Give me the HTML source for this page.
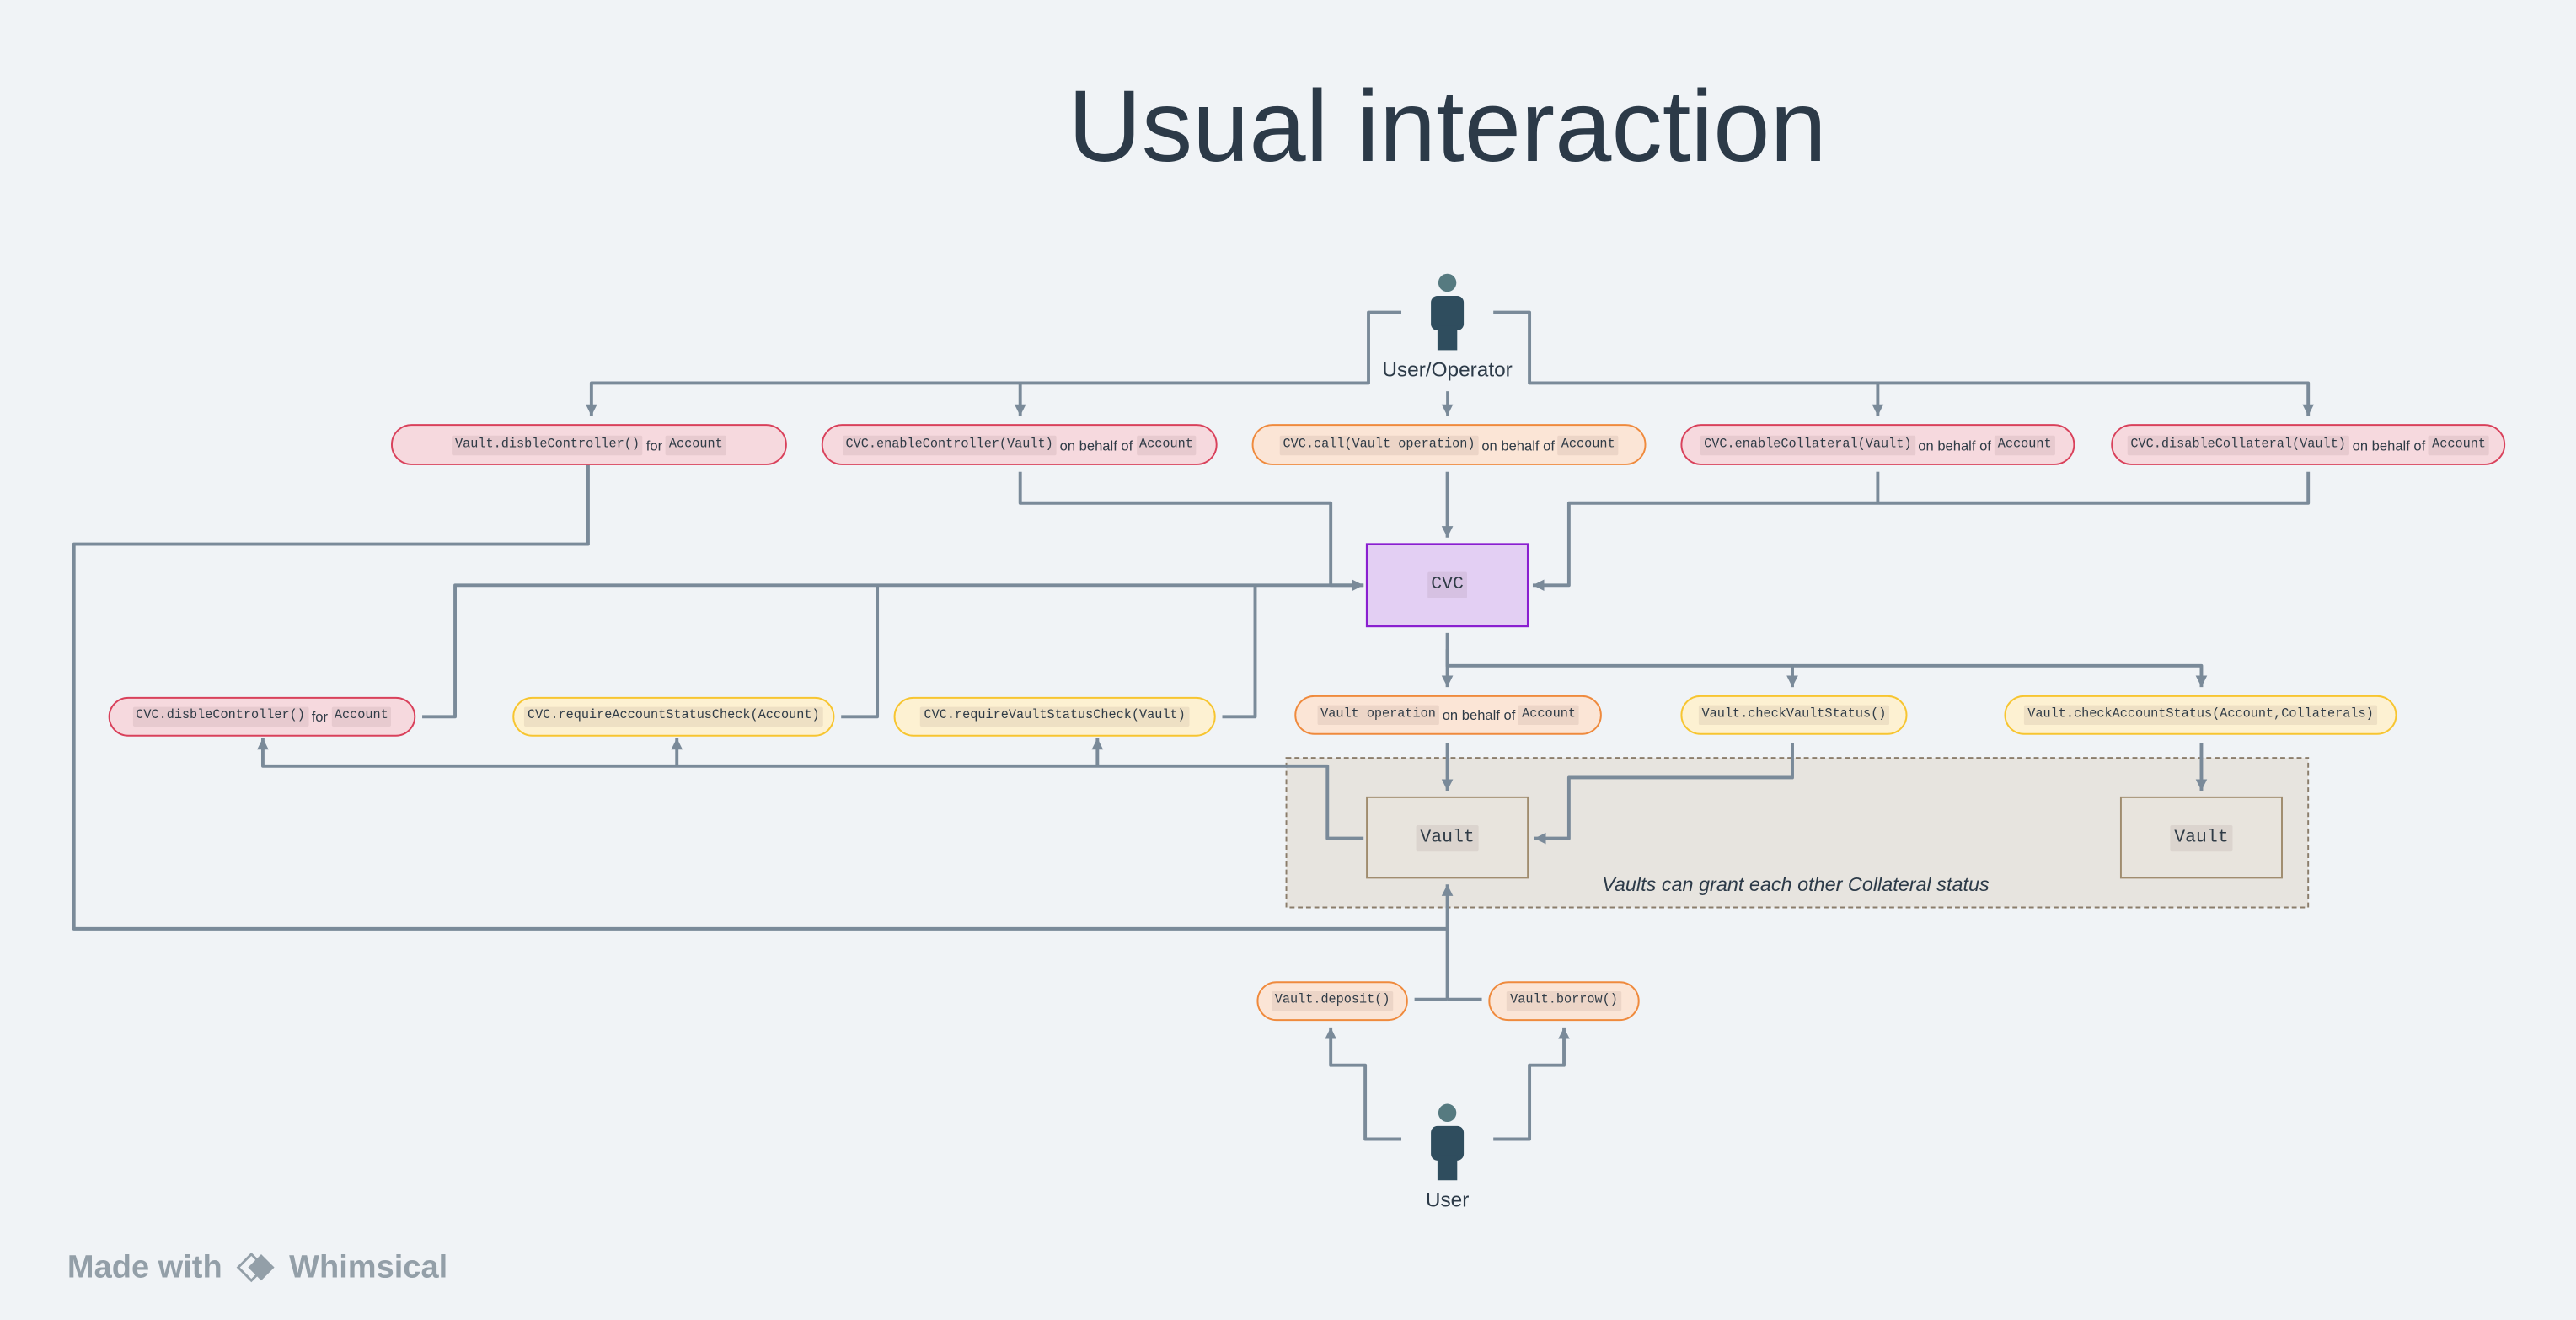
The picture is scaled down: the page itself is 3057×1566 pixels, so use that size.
<!DOCTYPE html>
<html><head><meta charset="utf-8"><style>
html,body{margin:0;padding:0;background:#f0f3f6;}
body{width:3057px;height:1566px;overflow:hidden;position:relative;}
#w{position:absolute;left:0;top:0;width:1568px;height:803px;transform:scale(1.9496,1.9502);transform-origin:0 0;}
svg{position:absolute;left:0;top:0;}
.n{position:absolute;box-sizing:border-box;display:flex;align-items:center;justify-content:center;font-family:"Liberation Sans",sans-serif;font-size:8.5px;color:#2f3b46;white-space:nowrap;}
.p{background:#f6d9de;border:1.2px solid #d9415b;border-radius:13px;}
.o{background:#fbe5d6;border:1.2px solid #ef8a3d;border-radius:13px;}
.y{background:#fdf1d2;border:1.2px solid #f7c530;border-radius:13px;}
.c{font-family:"Liberation Mono",monospace;font-size:7.8px;background:rgba(90,60,60,0.09);padding:2px 2px;border-radius:1px;margin:0 2px;}
.t{position:absolute;font-family:"Liberation Sans",sans-serif;color:#2c3a48;white-space:nowrap;}
</style></head><body><div id="w">
<svg width="1568" height="803" viewBox="0 0 1568 803">
<defs><marker id="a" markerUnits="userSpaceOnUse" markerWidth="8" markerHeight="8" refX="7" refY="4" orient="auto"><path d="M0,0.5 L7,4 L0,7.5 Z" fill="#7a8a99"/></marker></defs>
<rect x="783" y="461" width="622" height="91" fill="#e7e4df" stroke="#8b7d6b" stroke-width="1" stroke-dasharray="3,2"/>
<rect x="832" y="485" width="98" height="49" fill="#e8e4dd" stroke="#a08c6e" stroke-width="1"/>
<rect x="1291" y="485" width="98" height="49" fill="#e8e4dd" stroke="#a08c6e" stroke-width="1"/>
<rect x="832" y="331" width="98" height="50" fill="#e3cff3" stroke="#8a1fd0" stroke-width="1.2"/>
<g fill="none" stroke="#7a8a99" stroke-width="2" stroke-linejoin="round">
<path d="M853,190 H833 V233 H360 V253" marker-end="url(#a)"/>
<path d="M621,233 V253" marker-end="url(#a)"/>
<path d="M909,190 H931 V233 H1405 V253" marker-end="url(#a)"/>
<path d="M1143,233 V253" marker-end="url(#a)"/>
<path d="M881,238 V253" stroke-width="1.5" marker-end="url(#a)"/>
<path d="M358,283 V331 H45 V565 H881"/>
<path d="M621,287 V306 H810 V356 H830" marker-end="url(#a)"/>
<path d="M881,287 V327" marker-end="url(#a)"/>
<path d="M1405,287 V306 H955 V356 H933" marker-end="url(#a)"/>
<path d="M1143,287 V306"/>
<path d="M257,436 H277 V356 H830"/>
<path d="M512,436 H534 V356"/>
<path d="M744,436 H764 V356"/>
<path d="M881,385 V418" marker-end="url(#a)"/>
<path d="M881,395 V405 H1340 V418" marker-end="url(#a)"/>
<path d="M1091,405 V418" marker-end="url(#a)"/>
<path d="M881,452 V481" marker-end="url(#a)"/>
<path d="M1091,452 V473 H955 V510 H934" marker-end="url(#a)"/>
<path d="M1340,452 V481" marker-end="url(#a)"/>
<path d="M830,510 H808 V466 H160 V449" marker-end="url(#a)"/>
<path d="M412,466 V449" marker-end="url(#a)"/>
<path d="M668,466 V449" marker-end="url(#a)"/>
<path d="M881,608 V538" marker-end="url(#a)"/>
<path d="M861,608 H881"/><path d="M902,608 H881"/>
<path d="M853,693 H831 V648 H810 V625" marker-end="url(#a)"/>
<path d="M909,693 H931 V648 H952 V625" marker-end="url(#a)"/>
</g>
<g>
<circle cx="881" cy="172" r="5.5" fill="#567a80"/>
<rect x="871" y="180" width="20" height="21" rx="4" fill="#2f4d5e"/>
<rect x="875" y="198" width="12" height="15" fill="#2f4d5e"/>
<circle cx="881" cy="677" r="5.5" fill="#567a80"/>
<rect x="871" y="685" width="20" height="21" rx="4" fill="#2f4d5e"/>
<rect x="875" y="703" width="12" height="15" fill="#2f4d5e"/>
</g>
<g transform="translate(145,771)">
<path d="M0,0 L8,-8 L16,0 L8,8 Z" fill="none" stroke="#939fa8" stroke-width="1.5"/>
<path d="M6,0 L14,-8 L22,0 L14,8 Z" fill="#939fa8"/>
</g>
</svg>
<div class="t" style="left:0;width:1762px;top:42px;text-align:center;font-size:62px;">Usual interaction</div>
<div class="t" style="left:781px;width:200px;top:218px;text-align:center;font-size:12.5px;">User/Operator</div>
<div class="t" style="left:781px;width:200px;top:723px;text-align:center;font-size:12.5px;">User</div>
<div class="t" style="left:893px;width:400px;top:531px;text-align:center;font-size:12px;font-style:italic;">Vaults can grant each other Collateral status</div>
<div class="t" style="left:41px;top:760px;font-size:19.5px;font-weight:bold;color:#939fa8;">Made with</div>
<div class="t" style="left:176px;top:760px;font-size:19.5px;font-weight:bold;color:#939fa8;">Whimsical</div>

<div class="n p" style="left:238px;top:258px;width:241px;height:25px;"><span class="c">Vault.disbleController()</span>for<span class="c">Account</span></div>
<div class="n p" style="left:500px;top:258px;width:241px;height:25px;"><span class="c">CVC.enableController(Vault)</span>on behalf of<span class="c">Account</span></div>
<div class="n o" style="left:762px;top:258px;width:240px;height:25px;"><span class="c">CVC.call(Vault operation)</span>on behalf of<span class="c">Account</span></div>
<div class="n p" style="left:1023px;top:258px;width:240px;height:25px;"><span class="c">CVC.enableCollateral(Vault)</span>on behalf of<span class="c">Account</span></div>
<div class="n p" style="left:1285px;top:258px;width:240px;height:25px;"><span class="c">CVC.disableCollateral(Vault)</span>on behalf of<span class="c">Account</span></div>

<div class="n" style="left:832px;top:331px;width:98px;height:50px;"><span class="c" style="font-size:11px;">CVC</span></div>

<div class="n p" style="left:66px;top:424px;width:187px;height:24px;"><span class="c">CVC.disbleController()</span>for<span class="c">Account</span></div>
<div class="n y" style="left:312px;top:424px;width:196px;height:24px;"><span class="c">CVC.requireAccountStatusCheck(Account)</span></div>
<div class="n y" style="left:544px;top:424px;width:196px;height:24px;"><span class="c">CVC.requireVaultStatusCheck(Vault)</span></div>
<div class="n o" style="left:788px;top:423px;width:187px;height:24px;"><span class="c">Vault operation</span>on behalf of<span class="c">Account</span></div>
<div class="n y" style="left:1023px;top:423px;width:138px;height:24px;"><span class="c">Vault.checkVaultStatus()</span></div>
<div class="n y" style="left:1220px;top:423px;width:239px;height:24px;"><span class="c">Vault.checkAccountStatus(Account,Collaterals)</span></div>

<div class="n" style="left:832px;top:485px;width:98px;height:49px;"><span class="c" style="font-size:11px;">Vault</span></div>
<div class="n" style="left:1291px;top:485px;width:98px;height:49px;"><span class="c" style="font-size:11px;">Vault</span></div>

<div class="n o" style="left:765px;top:597px;width:92px;height:24px;"><span class="c">Vault.deposit()</span></div>
<div class="n o" style="left:906px;top:597px;width:92px;height:24px;"><span class="c">Vault.borrow()</span></div>
</div></body></html>
